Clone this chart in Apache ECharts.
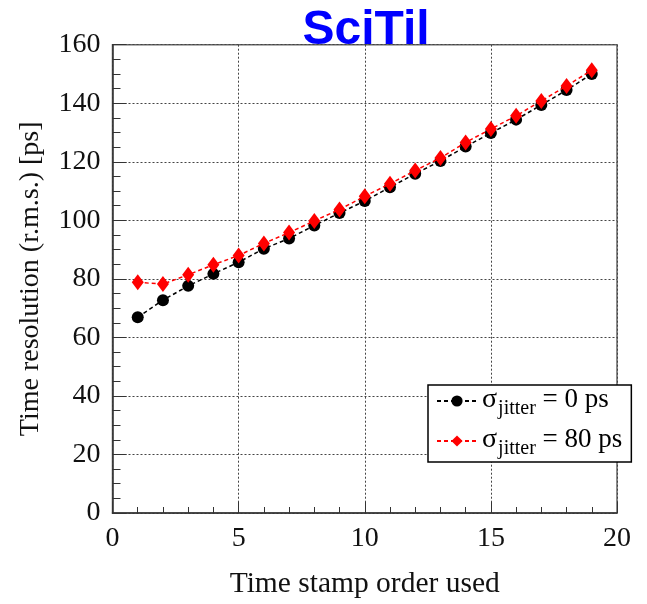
<!DOCTYPE html>
<html>
<head>
<meta charset="utf-8">
<title>SciTil time resolution</title>
<script src="https://cdn.jsdelivr.net/npm/echarts@6/dist/echarts.min.js"></script>
<style>
  html, body { margin: 0; padding: 0; background: #fff; }
  #chart { width: 647px; height: 604px; }
</style>
</head>
<body>
<div id="chart"></div>
<script>
// Time stamp order used (x) and resulting r.m.s. time resolution in ps (y)
const orders = [1, 2, 3, 4, 5, 6, 7, 8, 9, 10, 11, 12, 13, 14, 15, 16, 17, 18, 19];
const resNoJitter = [66.9, 72.7, 77.6, 81.7, 85.7, 90.3, 93.8, 98.2, 102.5, 106.6,
                     111.3, 115.9, 120.3, 125.2, 129.8, 134.4, 139.4, 144.5, 150.0];
const resJitter80 = [78.8, 78.2, 81.4, 84.8, 88.0, 92.1, 95.8, 99.8, 103.7, 108.2,
                     112.5, 117.0, 121.3, 126.6, 131.2, 135.7, 140.8, 145.9, 151.3];
const seriesNames = ['σ0', 'σ80'];
const jitterValues = ['0 ps', '80 ps'];

const serif = "'Liberation Serif', 'DejaVu Serif', 'Times New Roman', serif";

const pairs = ys => orders.map((x, i) => [x, ys[i]]);

const chart = echarts.init(document.getElementById('chart'), null, { renderer: 'canvas' });

chart.setOption({
  backgroundColor: '#ffffff',
  animation: false,
  title: {
    text: 'SciTil',
    left: 361,
    top: 2,
    textAlign: 'center',
    textStyle: {
      fontFamily: "'Liberation Sans', Arial, sans-serif",
      fontWeight: 'bold',
      fontSize: 48,
      color: '#0000ff'
    }
  },
  grid: {
    left: 112.5,
    right: 30,
    top: 44.7,
    bottom: 89.5,
    show: true,
    borderColor: '#666',
    borderWidth: 1.5,
    backgroundColor: 'transparent'
  },
  legend: {
    orient: 'vertical',
    left: 428,
    top: 385,
    padding: [1, 9, 3, 8],
    itemGap: 7,
    itemWidth: 40,
    itemHeight: 14,
    backgroundColor: '#ffffff',
    borderColor: '#000',
    borderWidth: 1.5,
    data: seriesNames,
    formatter: name => {
      const v = jitterValues[seriesNames.indexOf(name)];
      return '{s|σ}{sub|jitter}{t| = ' + v + '}';
    },
    textStyle: {
      rich: {
        s: { fontFamily: serif, fontSize: 28, lineHeight: 30, verticalAlign: 'top', color: '#000' },
        sub: { fontFamily: serif, fontSize: 20, lineHeight: 20, padding: [13, 0, 0, 1], verticalAlign: 'top', color: '#000' },
        t: { fontFamily: serif, fontSize: 27, lineHeight: 30, verticalAlign: 'top', color: '#000' }
      }
    }
  },
  xAxis: {
    type: 'value',
    min: 0,
    max: 20,
    interval: 5,
    name: 'Time stamp order used',
    nameLocation: 'middle',
    nameGap: 56,
    nameTextStyle: { fontFamily: serif, fontSize: 29.5, color: '#111' },
    axisLine: { show: true, onZero: false, lineStyle: { color: '#333', width: 1.5 } },
    axisTick: { show: true, inside: true, length: 11, lineStyle: { color: '#333', width: 1 } },
    minorTick: { show: true, splitNumber: 5, length: 6, lineStyle: { color: '#333', width: 1 } },
    axisLabel: { fontFamily: serif, fontSize: 28, color: '#111', margin: 12 },
    splitLine: { show: true, lineStyle: { color: '#444', width: 1, type: [2, 2] } }
  },
  yAxis: {
    type: 'value',
    min: 0,
    max: 160,
    interval: 20,
    name: 'Time resolution (r.m.s.) [ps]',
    nameLocation: 'middle',
    nameGap: 68,
    nameTextStyle: { fontFamily: serif, fontSize: 28, color: '#111' },
    axisLine: { show: true, onZero: false, lineStyle: { color: '#333', width: 1.5 } },
    axisTick: { show: true, inside: true, length: 14, lineStyle: { color: '#333', width: 1 } },
    minorTick: { show: true, splitNumber: 4, length: 8, lineStyle: { color: '#333', width: 1 } },
    axisLabel: { fontFamily: serif, fontSize: 28, color: '#111', margin: 12 },
    splitLine: { show: true, lineStyle: { color: '#444', width: 1, type: [2, 2] } }
  },
  series: [
    {
      name: seriesNames[0],
      type: 'line',
      data: pairs(resNoJitter),
      symbol: 'circle',
      symbolSize: 12,
      itemStyle: { color: '#000' },
      lineStyle: { color: '#000', width: 1.5, type: [4, 3] },
      z: 2
    },
    {
      name: seriesNames[1],
      type: 'line',
      data: pairs(resJitter80),
      symbol: 'diamond',
      symbolSize: [12, 16],
      itemStyle: { color: '#ff0000' },
      lineStyle: { color: '#ff0000', width: 1.5, type: [4, 3] },
      z: 3
    }
  ]
});
</script>
</body>
</html>
